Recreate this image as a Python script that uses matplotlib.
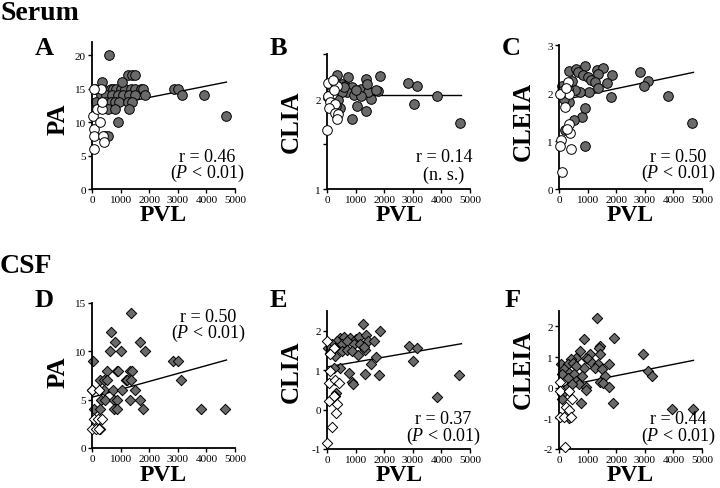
import matplotlib
matplotlib.use("Agg")
import matplotlib.pyplot as plt

plt.rcParams['font.family'] = ['Liberation Serif', 'DejaVu Serif']
plt.rcParams['mathtext.fontset'] = 'custom'
plt.rcParams['mathtext.rm'] = 'Liberation Serif'
plt.rcParams['mathtext.it'] = 'Liberation Serif:italic'

# ---- data ----
# Serum PA (A)
a_gray_x = [600, 100, 400, 650, 750, 850, 1000, 1150, 1350, 1500, 1700, 1800, 2850, 3000,
            1250, 1400, 1500, 350, 1050, 300, 500, 700, 900, 1100, 1300, 1500, 1850, 3150,
            3900, 150, 350, 500, 650, 800, 950, 1250, 1400, 550, 800, 1300, 900, 4700, 450, 550]
a_gray_y = [20, 15, 15, 15, 15, 15, 15, 15, 15, 15, 15, 15, 15, 15,
            17, 17, 17, 16, 16, 14, 14, 14, 14, 14, 14, 14, 14, 14,
            14, 13, 13, 13, 13, 13, 13, 13, 13, 12, 12, 12, 10, 11, 8, 8]
a_white_x = [80, 40, 70, 70, 390, 430, 270, 180, 360, 360, 310, 70]
a_white_y = [6, 11, 9, 8, 8, 7, 10, 12, 12, 13, 15, 15]

# Serum CLIA (B)
b_gray_x = [340, 750, 1350, 1860, 2830, 3130, 3850, 3040, 4640, 870, 1350, 1050, 1525, 520,
            640, 880, 1180, 1420, 1770, 700, 940, 1180, 520, 400, 460, 580, 1000, 50, 1390,
            1700, 300, 200]
b_gray_y = [2.27, 2.25, 2.22, 2.26, 2.18, 2.15, 2.03, 1.95, 1.73, 1.78, 1.87, 1.92, 2.0, 2.17,
            2.14, 2.13, 2.11, 2.08, 2.09, 2.08, 2.04, 2.03, 2.08, 1.99, 1.90, 2.13, 2.10, 2.02,
            2.17, 2.10, 1.92, 2.12]
b_white_x = [0, 50, 290, 350, 170, 20, 110, 290, 70, 290, 380, 350, 200, 250]
b_white_y = [1.66, 2.18, 2.18, 2.14, 2.06, 2.03, 1.97, 1.94, 1.90, 1.84, 1.83, 1.78, 2.21, 2.10]

# Serum CLEIA (C)
c_gray_x = [350, 610, 920, 670, 840, 1020, 1340, 1540, 1360, 1110, 1250, 1850, 1690, 1360,
            1040, 730, 560, 2840, 3120, 2980, 1830, 3820, 4650, 900, 810, 900, 530, 350, 90,
            190, 90, 320, 460, 200]
c_gray_y = [2.45, 2.49, 2.56, 2.43, 2.38, 2.33, 2.47, 2.52, 2.40, 2.28, 2.22, 2.38, 2.21, 2.10,
            2.03, 2.03, 2.07, 2.43, 2.24, 2.15, 1.92, 1.93, 1.37, 0.89, 1.49, 1.68, 1.44, 1.81,
            2.15, 1.88, 2.05, 2.08, 2.24, 1.22]
c_white_x = [300, 350, 30, 210, 350, 380, 270, 70, 30, 420, 120, 250]
c_white_y = [2.22, 1.98, 1.98, 1.70, 1.35, 1.16, 1.26, 1.03, 0.90, 0.83, 0.36, 2.10]

# CSF PA (D)
d_gray_x = [1350, 670, 820, 1670, 620, 1000, 1850, 40, 2820, 3000, 530, 860, 920, 1320, 1390,
            290, 410, 530, 1180, 1240, 1380, 3120, 0, 410, 740, 1060, 1510, 320, 470, 760,
            860, 1320, 1670, 60, 290, 760, 860, 1800, 3820, 4650]
d_gray_y = [14, 12, 11, 11, 10, 10, 10, 9, 9, 9, 8, 8, 8, 8, 8,
            7, 7, 7, 7, 7, 7, 7, 6, 6, 6, 6, 6, 5, 5, 5,
            5, 5, 5, 4, 4, 4, 4, 4, 4, 4]
d_white_x = [0, 240, 60, 200, 350, 0, 140, 290, 250]
d_white_y = [6, 6, 3, 3, 3, 2, 2, 2, 2]

# CSF CLIA (E)
e_gray_x = [1260, 1860, 460, 580, 820, 1000, 1120, 1360, 350, 520, 700, 940, 1140, 1420, 1650,
            170, 50, 290, 520, 700, 880, 1100, 1330, 2850, 3140, 3000, 1710, 1540, 290, 110,
            460, 230, 760, 1330, 1810, 860, 900, 4630, 3860, 310, 290, 1300]
e_gray_y = [2.18, 2.0, 1.82, 1.84, 1.82, 1.79, 1.84, 1.88, 1.75, 1.66, 1.73, 1.66, 1.66, 1.75,
            1.75, 1.66, 1.56, 1.56, 1.48, 1.52, 1.48, 1.39, 1.50, 1.62, 1.56, 1.23, 1.33, 1.16,
            1.35, 1.44, 1.06, 1.06, 0.93, 0.91, 0.87, 0.71, 0.64, 0.87, 0.33, 0.43, 0.34, 1.58]
e_white_x = [0, 240, 100, 70, 270, 420, 70, 250, 340, 310, 160, 0, 110]
e_white_y = [1.75, 1.55, 0.99, 0.68, 0.75, 0.68, 0.22, 0.35, 0.14, -0.09, -0.43, -0.86, 1.40]

# CSF CLEIA (F)
f_gray_x = [1330, 890, 1930, 1430, 1400, 2950, 740, 1070, 600, 930, 1430, 420, 80, 300, 480,
            1010, 1170, 1370, 1760, 890, 180, 600, 1250, 1490, 3100, 3240, 360, 540, 120, 810,
            1610, 300, 600, 1430, 1550, 710, 930, 1760, 300, 450, 930, 120, 100, 770, 1880,
            3950, 4700, 360]
f_gray_y = [2.28, 1.58, 1.61, 1.36, 1.30, 1.11, 1.20, 1.11, 0.98, 0.98, 1.11, 0.92, 0.78, 0.78,
            0.82, 0.92, 0.82, 0.76, 0.76, 0.65, 0.60, 0.71, 0.65, 0.60, 0.54, 0.38, 0.49, 0.43,
            0.43, 0.38, 0.38, 0.33, 0.22, 0.20, 0.16, 0.11, 0.03, 0.02, 0.02, 0.13, -0.09,
            -0.20, -0.38, -0.51, -0.51, -0.68, -0.68, -0.98]
f_white_x = [50, 50, 340, 460, 260, 340, 50, 180, 410, 220]
f_white_y = [0.19, -0.10, -0.10, -0.37, -0.64, -0.73, -0.97, -0.97, -0.97, -1.95]

# trend lines: (x start, x end, y start, y end)
trend_a = (0, 4700, 12.0, 16.0)
trend_b = (0, 4700, 2.05, 2.05)
trend_c = (0, 4700, 1.84, 2.43)
trend_d = (0, 4700, 5.25, 9.1)
trend_e = (0, 4700, 1.08, 1.67)
trend_f = (0, 4700, 0.02, 0.89)

r_labels = ['r = 0.46', 'r = 0.14', 'r = 0.50', 'r = 0.50', 'r = 0.37', 'r = 0.44']
p_labels = [r'($\it{P}$ < 0.01)', '(n. s.)', r'($\it{P}$ < 0.01)',
            r'($\it{P}$ < 0.01)', r'($\it{P}$ < 0.01)', r'($\it{P}$ < 0.01)']
y_names = ['PA', 'CLIA', 'CLEIA', 'PA', 'CLIA', 'CLEIA']
letters = ['A', 'B', 'C', 'D', 'E', 'F']
x_ticks = [0, 1000, 2000, 3000, 4000, 5000]

W, H = 720, 489
GRAY = '#6a6a6a'


def px_box(l, r, t, b):
    return [l / W, 1 - b / H, (r - l) / W, (b - t) / H]


def fx(x):
    return x / W


def fy(y):
    return 1 - y / H


fig = plt.figure(figsize=(7.2, 4.89), dpi=100)

panels = [
    # box, data, trend, ylim, yticks, ytick labels, marker, text centre x, baselines
    (px_box(92, 235, 43, 190), (a_gray_x, a_gray_y, a_white_x, a_white_y), trend_a,
     (0, 22), [0, 5, 10, 15, 20], ['0', '5', '10', '15', '20'], 'o', 207, (162, 178)),
    (px_box(327, 470, 55, 190), (b_gray_x, b_gray_y, b_white_x, b_white_y), trend_b,
     (1, 2.5), [1, 1.5, 2, 2.5], ['1', '', '2', ''], 'o', 444, (162, 180)),
    (px_box(559, 702, 46, 190), (c_gray_x, c_gray_y, c_white_x, c_white_y), trend_c,
     (0, 3), [0, 1, 2, 3], ['0', '1', '2', '3'], 'o', 678, (162, 178)),
    (px_box(92, 235, 304, 449), (d_gray_x, d_gray_y, d_white_x, d_white_y), trend_d,
     (0, 15), [0, 5, 10, 15], ['0', '5', '10', '15'], 'D', 208, (322, 338)),
    (px_box(327, 470, 312, 450), (e_gray_x, e_gray_y, e_white_x, e_white_y), trend_e,
     (-1, 2.5), [-1, 0, 1, 2], ['-1', '0', '1', '2'], 'D', 443, (424, 441)),
    (px_box(559, 702, 312, 450), (f_gray_x, f_gray_y, f_white_x, f_white_y), trend_f,
     (-2, 2.5), [-2, -1, 0, 1, 2], ['-2', '-1', '0', '1', '2'], 'D', 678, (424, 441)),
]

for i, (box, data, trend, ylim, yt, ytl, mk, tx, (b1, b2)) in enumerate(panels):
    ax = fig.add_axes(box)
    gx, gy, wx, wy = data
    size = 48 if mk == 'o' else 28
    ax.plot(trend[:2], trend[2:], color='black', lw=1.0, zorder=1)
    ax.scatter(gx, gy, s=size, marker=mk, facecolor=GRAY, edgecolor='black',
               linewidths=0.7, zorder=2, clip_on=False)
    ax.scatter(wx, wy, s=size, marker=mk, facecolor='white', edgecolor='black',
               linewidths=0.7, zorder=3, clip_on=False)
    ax.set_xlim(0, 5000)
    ax.set_ylim(*ylim)
    ax.set_xticks(x_ticks)
    ax.set_xticklabels([str(t) for t in x_ticks])
    ax.set_yticks(yt)
    ax.set_yticklabels(ytl)
    for side in ('top', 'right'):
        ax.spines[side].set_visible(False)
    for side in ('left', 'bottom'):
        ax.spines[side].set_linewidth(1.3)
    ax.tick_params(direction='out', length=3, width=1, labelsize=8, pad=1.5)
    ax.patch.set_alpha(0)

    fig.text(fx(tx), fy(b1), r_labels[i], fontsize=13, ha='center', va='baseline')
    fig.text(fx(tx), fy(b2), p_labels[i], fontsize=13, ha='center', va='baseline')

# axis titles and panel letters (pixel positions from the original)
ylab_pos = [(58, 119), (291, 122), (523, 121), (58, 372), (291, 372), (523, 369)]
xlab_pos = [(163, 221), (399, 221), (630, 221), (163, 481), (399, 481), (630, 481)]
letter_pos = [(35, 55), (270, 55), (502, 55), (35, 307), (270, 307), (505, 307)]
for i in range(6):
    fig.text(fx(ylab_pos[i][0]), fy(ylab_pos[i][1]), y_names[i], fontsize=18,
             fontweight='bold', rotation=90, ha='center', va='center')
    fig.text(fx(xlab_pos[i][0]), fy(xlab_pos[i][1]), 'PVL', fontsize=17,
             fontweight='bold', ha='center', va='baseline')
    fig.text(fx(letter_pos[i][0]), fy(letter_pos[i][1]), letters[i], fontsize=19,
             fontweight='bold', ha='left', va='baseline')

fig.text(fx(0), fy(20), 'Serum', fontsize=20, fontweight='bold', ha='left', va='baseline')
fig.text(fx(0), fy(273), 'CSF', fontsize=20, fontweight='bold', ha='left', va='baseline')

fig.savefig('out.png', dpi=100)
